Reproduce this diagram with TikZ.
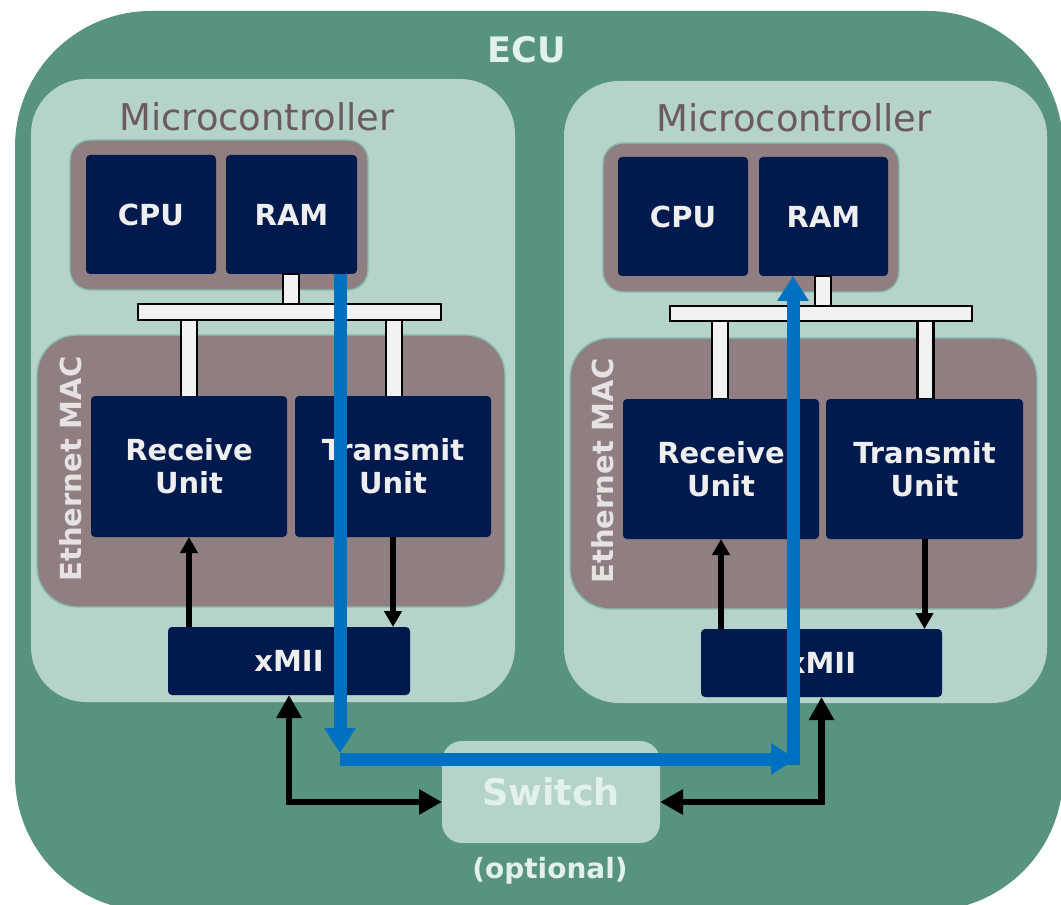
\documentclass[tikz,border=0pt]{standalone}
\usepackage{fontspec}
\setmainfont{DejaVu Sans}
\usetikzlibrary{arrows.meta}
\definecolor{ecug}{HTML}{57937F}
\definecolor{mcl}{HTML}{B5D3CB}
\definecolor{grayc}{HTML}{907F80}
\definecolor{tealb}{HTML}{86BFAE}
\definecolor{navy}{HTML}{001A4D}
\definecolor{txtw}{HTML}{EEEEEE}
\definecolor{ecut}{HTML}{E3F1EC}
\definecolor{mact}{HTML}{E6E2E2}
\definecolor{mctxt}{HTML}{6B5B5C}
\definecolor{busf}{HTML}{F2F2F2}
\definecolor{blu}{HTML}{0070C0}
\newcommand\fECU{\fontsize{20pt}{24pt}\selectfont\bfseries}
\newcommand\fMC{\fontsize{21pt}{25pt}\selectfont}
\newcommand\fUnit{\fontsize{16.5pt}{18.8pt}\selectfont\bfseries}
\newcommand\fSw{\fontsize{20.8pt}{25pt}\selectfont\bfseries}
\newcommand\fOpt{\fontsize{15.9pt}{19pt}\selectfont\bfseries}
\begin{document}
\begin{tikzpicture}[x=0.02cm,y=-0.02cm,
  sz/.style 2 args={minimum width=#1*0.02cm, minimum height=#2*0.02cm},
  base/.style={inner sep=0pt, outer sep=0pt},
  mcbox/.style={base, fill=mcl, rounded corners=1.1cm},
  grpbox/.style={base, fill=grayc, draw=tealb, line width=0.8pt},
  blk/.style={base, fill=navy, rounded corners=0.08cm, text=txtw, font=\fUnit, align=center},
  busbox/.style={base, fill=busf, draw=black, line width=1.2pt},
  mctitle/.style={text=mctxt, font=\fMC, inner sep=0pt},
  maclabel/.style={text=mact, font=\fUnit, rotate=90, inner sep=0pt},
  blarr/.style={draw=black, line width=0.12cm, -{Triangle[width=0.34cm,length=0.32cm]}},
  bigarr/.style={draw=black, line width=0.13cm, {Triangle[width=0.48cm,length=0.46cm]}-{Triangle[width=0.48cm,length=0.46cm]}},
  bluarr/.style={draw=blu, line width=0.26cm, -{Triangle[width=0.6cm,length=0.5cm]}}
]
\useasboundingbox (0,0) rectangle (1061,905);
\clip (0,0) rectangle (1061,905);

% ECU
\node[base, fill=ecug, rounded corners=2.72cm, sz={1048}{900}] (ecu) at (539,461) {};
\node[text=ecut, font=\fECU, inner sep=0pt] (ecut) at (527,50) {ECU};

% ---------- left microcontroller
\node[mcbox, sz={484}{623}] (mcL) at (273,390.5) {};
\node[mctitle] (mcLt) at (257,117) {Microcontroller};
\node[grpbox, rounded corners=0.4cm, sz={298}{150}] (memL) at (219,215) {};
\node[blk, sz={130}{119}] (cpuL) at (151,214.5) {CPU};
\node[blk, sz={131}{119}] (ramL) at (291.5,214.5) {RAM};
\node[grpbox, rounded corners=0.8cm, sz={468}{272}] (macL) at (271,471) {};
\node[maclabel] (macLt) at (71,469) {Ethernet MAC};
\node[busbox, sz={16}{30}] (stubL) at (291,289) {};
\node[busbox, sz={303}{16}] (busL) at (289.5,312) {};
\node[busbox, sz={16}{77}] (rxbL) at (189,358.5) {};
\node[busbox, sz={16}{77}] (txbL) at (394,358.5) {};
\node[blk, sz={196}{141}] (rxL) at (189,466.5) {Receive\\Unit};
\node[blk, sz={196}{141}] (txL) at (393,466.5) {Transmit\\Unit};
\node[blk, sz={242}{68}] (xmiiL) at (289,661) {xMII};

% ---------- right microcontroller
\node[mcbox, sz={483}{622}] (mcR) at (805.5,392) {};
\node[mctitle] (mcRt) at (794,118) {Microcontroller};
\node[grpbox, rounded corners=0.4cm, sz={296}{149}] (memR) at (751,217.5) {};
\node[blk, sz={130}{119}] (cpuR) at (683,216.5) {CPU};
\node[blk, sz={129}{119}] (ramR) at (823.5,216.5) {RAM};
\node[grpbox, rounded corners=0.8cm, sz={467}{271}] (macR) at (803.5,473.5) {};
\node[maclabel] (macRt) at (603,471) {Ethernet MAC};
\node[busbox, sz={16}{30}] (stubR) at (823,291) {};
\node[busbox, sz={302}{15}] (busR) at (821,313.5) {};
\node[busbox, sz={16}{78}] (rxbR) at (720,360) {};
\node[busbox, sz={16}{78}] (txbR) at (925.5,360) {};
\node[blk, sz={196}{140}] (rxR) at (721,469) {Receive\\Unit};
\node[blk, sz={197}{140}] (txR) at (924.5,469) {Transmit\\Unit};
\node[blk, sz={241}{68}] (xmiiR) at (821.5,663) {xMII};

% ---------- switch
\node[base, fill=mcl, rounded corners=0.4cm, sz={218}{102}, text=ecut, font=\fSw] (swt) at (551,792) {Switch};
\node[text=ecut, font=\fOpt, inner sep=0pt] (opt) at (550,871) {(optional)};

% ---------- inner arrows
\draw[blarr] (rxL.south |- xmiiL.north) -- (rxL.south);
\draw[blarr] (txL.south) -- (txL.south |- xmiiL.north);
\draw[blarr] (rxR.south |- xmiiR.north) -- (rxR.south);
\draw[blarr] (txR.south) -- (txR.south |- xmiiR.north);

% ---------- arrows to switch
\draw[bigarr] (xmiiL.south) |- ([yshift=-0.2cm]swt.west);
\draw[bigarr] (xmiiR.south) |- ([yshift=-0.2cm]swt.east);

% ---------- blue data path
\coordinate (bl) at (340,759);
\coordinate (br) at (793,759);
\draw[bluarr] (ramL.south -| bl) -- ([yshift=0.12cm]bl);
\draw[bluarr] (bl) -- ([xshift=0.06cm]br);
\draw[bluarr] ([yshift=-0.12cm]br) -- (ramR.south -| br);
\end{tikzpicture}
\end{document}
